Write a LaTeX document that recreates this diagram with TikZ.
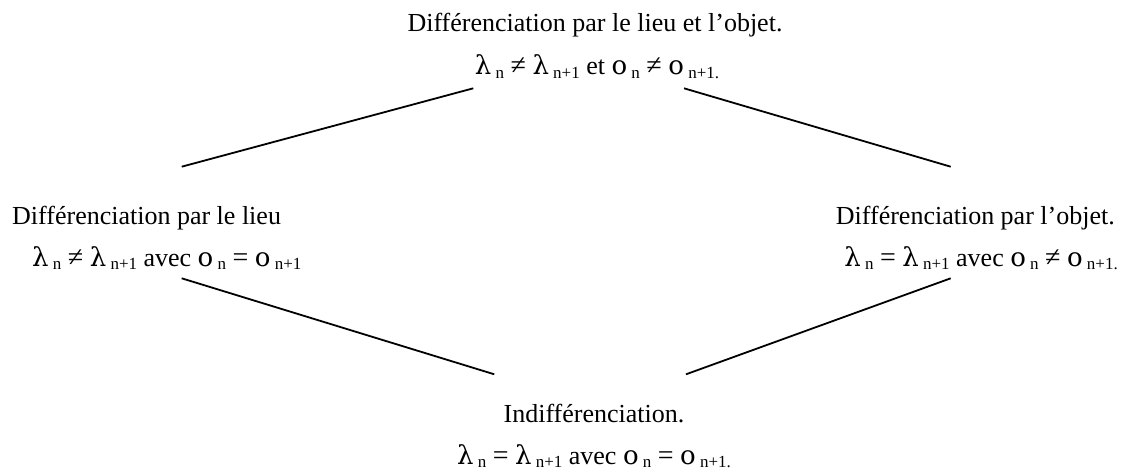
\documentclass[tikz,border=0pt]{standalone}
\usepackage{fontspec}
\setmainfont{Liberation Serif}
\newfontfamily\grkfont{DejaVu Serif}
\newcommand\sbx[1]{\lower3.5pt\hbox{\fontsize{17}{17}\selectfont #1}}
\newcommand\lam{{\grkfont\fontsize{26}{26}\selectfont λ}}
\newcommand\omi{{\grkfont\fontsize{26}{26}\selectfont ο}}
\newcommand\neqs{{\fontsize{28}{28}\selectfont ≠}}
\newcommand\eqs{{\fontsize{28}{28}\selectfont =}}
\begin{document}
\begin{tikzpicture}[x=1pt,y=-1pt,
  txt/.style={inner sep=0pt, font=\fontsize{26}{30}\selectfont},
  conn/.style={line width=1.8pt, line cap=butt}]
\useasboundingbox (0,0) rectangle (1121,470);
% top
\node[txt, anchor=base] (t1) at (595,32) {Différenciation par le lieu et l’objet.};
\node[txt, anchor=base] (t2) at (597,75) {\lam\sbx{ n} \neqs{} \lam\sbx{ n+1} et \omi\sbx{ n} \neqs{} \omi\sbx{ n+1.}};
% left
\node[txt, anchor=base west] (l1) at (12,225) {Différenciation par le lieu};
\node[txt, anchor=base west] (l2) at (32,266) {\lam\sbx{ n} \neqs{} \lam\sbx{ n+1} avec \omi\sbx{ n} \eqs{} \omi\sbx{ n+1}};
% right
\node[txt, anchor=base east] (r1) at (1115,225) {Différenciation par l’objet.};
\node[txt, anchor=base east] (r2) at (1118,266) {\lam\sbx{ n} \eqs{} \lam\sbx{ n+1} avec \omi\sbx{ n} \neqs{} \omi\sbx{ n+1.}};
% bottom
\node[txt, anchor=base] (b1) at (594,422) {Indifférenciation.};
\node[txt, anchor=base] (b2) at (594,464) {\lam\sbx{ n} \eqs{} \lam\sbx{ n+1} avec \omi\sbx{ n} \eqs{} \omi\sbx{ n+1.}};
% connector end points
\coordinate (tlA) at (473.3,88.3);
\coordinate (tlB) at (181.7,166.7);
\coordinate (trA) at (684,88.3);
\coordinate (trB) at (950.7,166.7);
\coordinate (blA) at (181.7,278.3);
\coordinate (blB) at (494.3,374.3);
\coordinate (brA) at (950.7,278.3);
\coordinate (brB) at (686,374.3);
\draw[conn] (tlA) -- (tlB);
\draw[conn] (trA) -- (trB);
\draw[conn] (blA) -- (blB);
\draw[conn] (brA) -- (brB);
\end{tikzpicture}
\end{document}
